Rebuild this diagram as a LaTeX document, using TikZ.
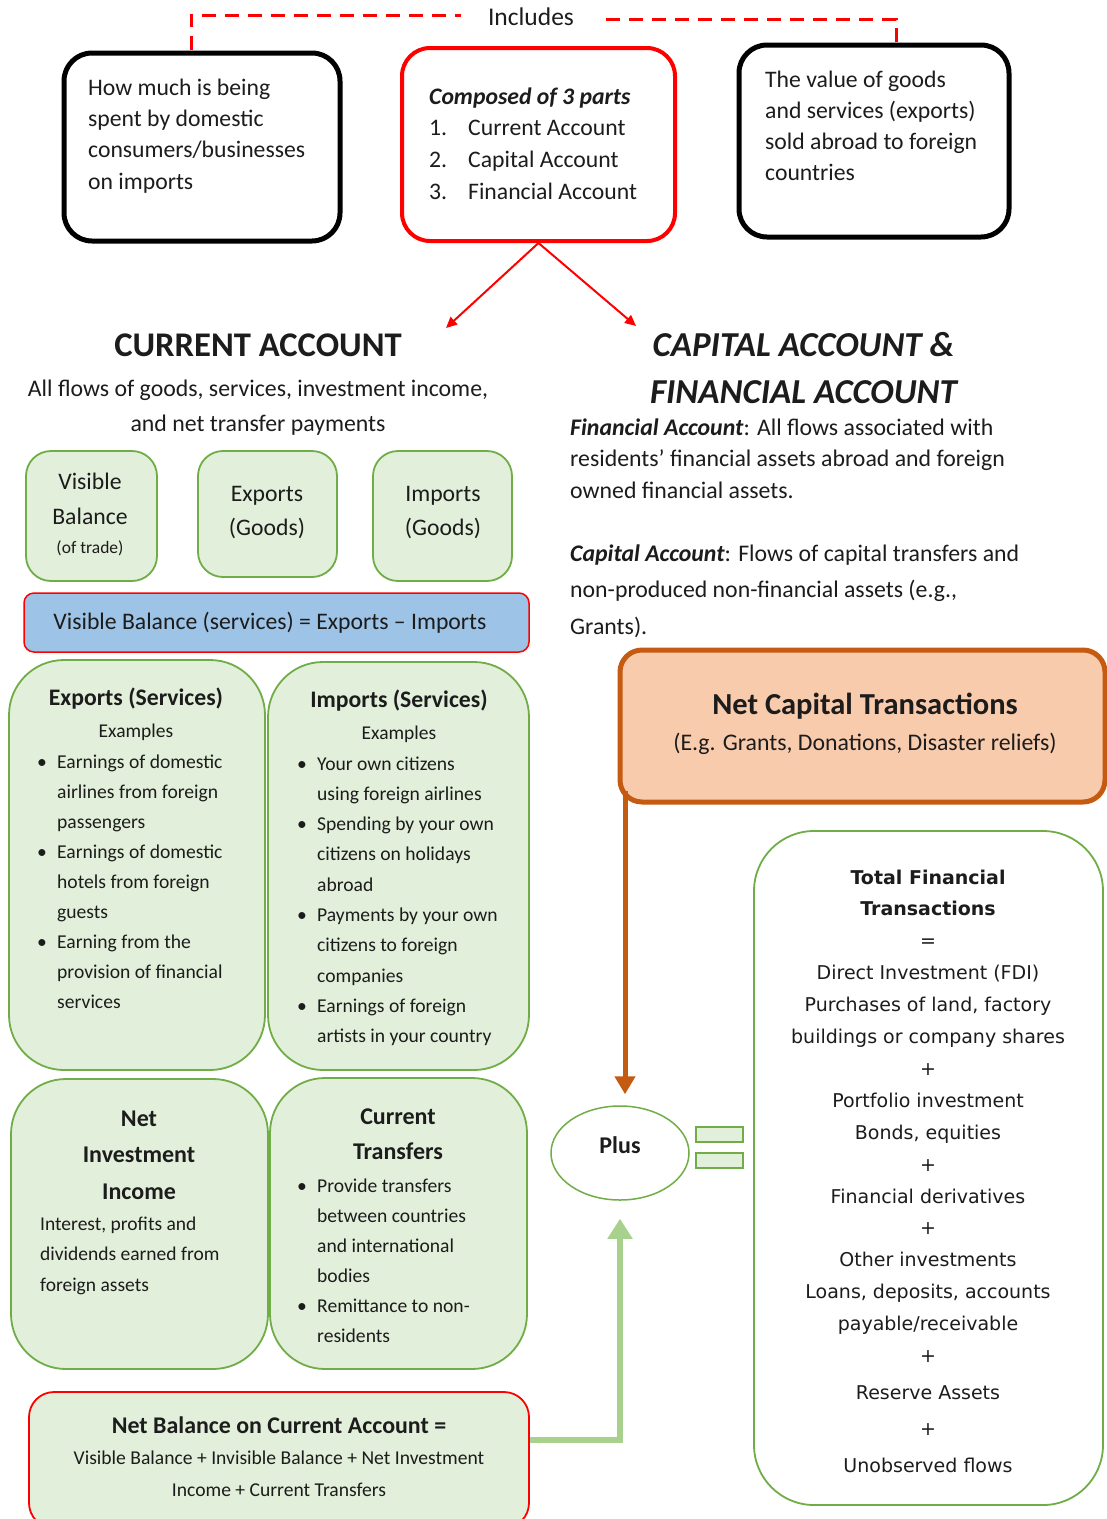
\documentclass[tikz,border=0pt]{standalone}
\usepackage{fontspec}
\setmainfont{Carlito}
\newfontfamily\verd{DejaVu Sans}
\usetikzlibrary{arrows.meta,shapes.geometric}
\definecolor{gborder}{HTML}{70AD47}
\definecolor{gfill}{HTML}{E2EFDA}
\definecolor{bfill}{HTML}{9DC3E6}
\definecolor{oborder}{HTML}{C55A11}
\definecolor{ofill}{HTML}{F8CBAD}
\definecolor{garrow}{HTML}{A9D18E}
\definecolor{ink}{HTML}{1C1C1C}
\newcommand\fsz[2]{\fontsize{#1pt}{#2pt}\selectfont}
\newcommand\Lines[2]{\begin{tabular}[t]{@{}#1@{}}#2\end{tabular}}
\newcommand\blt{\makebox[20pt][l]{\textbullet}}
\newcommand\nm[1]{\makebox[39pt][l]{#1}}
\begin{document}
\begin{tikzpicture}[x=1pt,y=-1pt,
  txt/.style={inner sep=0pt, anchor=base west, text=ink},
  ctxt/.style={inner sep=0pt, anchor=base, text=ink},
  bbox/.style={draw=black, line width=5pt, rounded corners=28, inner sep=0pt},
  rbox/.style={draw=red, line width=4pt, rounded corners=28, inner sep=0pt},
  gbox/.style={draw=gborder, fill=gfill, line width=1.8pt, inner sep=0pt},
  sgbox/.style={gbox, rounded corners=25},
  bgbox/.style={gbox, rounded corners=55},
  redarrow/.style={draw=red, line width=2pt, -{Triangle[length=11pt,width=10pt]}},
  dashline/.style={draw=red, line width=3pt, dash pattern=on 14pt off 9pt}
]
\useasboundingbox (0,0) rectangle (1107,1519);
\fill[white] (0,0) rectangle (1107,1519);

% top boxes
\node[bbox, minimum width=276, minimum height=188] (boxA) at (202,147) {};
\node[txt, font=\fsz{23.7}{31.4}] (tA) at (88,95) {\Lines{l}{How much is being\\spent by domestic\\consumers/businesses\\on imports}};

\node[rbox, minimum width=273, minimum height=193] (boxB) at (538.5,144.5) {};
\node[txt, font=\fsz{23.7}{31.7}] (tB) at (429,104) {\Lines{l}{\textbf{\textit{Composed of 3 parts}}\\\nm{1.}Current Account\\\nm{2.}Capital Account\\\nm{3.}Financial Account}};

\node[bbox, minimum width=270, minimum height=192] (boxC) at (874,141) {};
\node[txt, font=\fsz{23.7}{31.3}] (tC) at (765,87) {\Lines{l}{The value of goods\\and services (exports)\\sold abroad to foreign\\countries}};

\node[ctxt, font=\fsz{25.5}{28}] (incl) at (531,25) {Includes};
\coordinate (dA) at (191,50);
\coordinate (dC) at (896,44);
\draw[dashline] (dA) |- ([xshift=-27pt,yshift=1pt]incl.west);
\draw[dashline] ([xshift=32pt,yshift=-3pt]incl.east) -| (dC);

% headings
\coordinate (caL) at (446,328);
\coordinate (caR) at (636,326);
\draw[redarrow] (boxB.south) -- (caL);
\draw[redarrow] (boxB.south) -- (caR);

\node[ctxt, font=\bfseries\fsz{34.6}{40}] (curH) at (258,356) {CURRENT ACCOUNT};
\node[ctxt, font=\fsz{23.8}{35}] (curD) at (258,396) {\Lines{c}{All flows of goods, services, investment income,\\and net transfer payments}};
\node[ctxt, font=\bfseries\itshape\fsz{35}{47}] (capH) at (803.5,356) {\Lines{c}{CAPITAL ACCOUNT \&\\FINANCIAL ACCOUNT}};

\node[txt, font=\fsz{23.8}{31.5}] (faT) at (570,435) {\Lines{l}{\textbf{\textit{Financial Account}}: All flows associated with\\residents’ financial assets abroad and foreign\\owned financial assets.}};
\node[txt, font=\fsz{23.8}{36.5}] (caT) at (570,561) {\Lines{l}{\textbf{\textit{Capital Account}}: Flows of capital transfers and\\non-produced non-financial assets (e.g.,\\Grants).}};

% goods boxes
\node[sgbox, minimum width=131, minimum height=130] (vb) at (91.5,516) {};
\node[ctxt, font=\fsz{23.7}{35}] (vbT) at (90,489) {\Lines{c}{Visible\\Balance\\[-6pt]{\fsz{17.5}{20}(of trade)}}};
\node[sgbox, minimum width=139, minimum height=126] (exg) at (267.5,514) {};
\node[ctxt, font=\fsz{23.7}{34}] (exgT) at (267,501) {\Lines{c}{Exports\\(Goods)}};
\node[sgbox, minimum width=139, minimum height=130] (img) at (442.5,516) {};
\node[ctxt, font=\fsz{23.7}{34}] (imgT) at (443,501) {\Lines{c}{Imports\\(Goods)}};

\node[draw=red, fill=bfill, line width=1.5pt, rounded corners=10, minimum width=505, minimum height=59, inner sep=0pt] (vbs) at (276.5,622.5) {};
\node[ctxt, font=\fsz{23.7}{28}] (vbsT) at (270,629) {Visible Balance (services) = Exports – Imports};

% services boxes
\node[bgbox, minimum width=256, minimum height=410] (exs) at (137,865) {};
\node[ctxt, font=\bfseries\fsz{23.7}{28}] (exsH) at (136,705) {Exports (Services)};
\node[ctxt, font=\fsz{19.5}{22}] (exsE) at (136,737) {Examples};
\node[txt, font=\fsz{19.6}{30.1}] (exsL) at (37,768) {\Lines{l@{}l}{\blt&Earnings of domestic\\&airlines from foreign\\&passengers\\\blt&Earnings of domestic\\&hotels from foreign\\&guests\\\blt&Earning from the\\&provision of financial\\&services}};

\node[bgbox, minimum width=261, minimum height=408] (ims) at (398.5,866) {};
\node[ctxt, font=\bfseries\fsz{23.7}{28}] (imsH) at (399,707) {Imports (Services)};
\node[ctxt, font=\fsz{19.5}{22}] (imsE) at (399,739) {Examples};
\node[txt, font=\fsz{19.6}{30.3}] (imsL) at (297,770) {\Lines{l@{}l}{\blt&Your own citizens\\&using foreign airlines\\\blt&Spending by your own\\&citizens on holidays\\&abroad\\\blt&Payments by your own\\&citizens to foreign\\&companies\\\blt&Earnings of foreign\\&artists in your country}};

% income / transfers
\node[bgbox, minimum width=257, minimum height=290] (nii) at (139.5,1224) {};
\node[ctxt, font=\bfseries\fsz{24}{36.5}] (niiH) at (139,1126) {\Lines{c}{Net\\Investment\\Income}};
\node[txt, font=\fsz{19.5}{30.5}] (niiT) at (40,1230) {\Lines{l}{Interest, profits and\\dividends earned from\\foreign assets}};

\node[bgbox, minimum width=257, minimum height=291] (ctr) at (398.5,1223.5) {};
\node[ctxt, font=\bfseries\fsz{24}{35}] (ctrH) at (398,1124) {\Lines{c}{Current\\Transfers}};
\node[txt, font=\fsz{19.6}{30}] (ctrL) at (297,1192) {\Lines{l@{}l}{\blt&Provide transfers\\&between countries\\&and international\\&bodies\\\blt&Remittance to non-\\&residents}};

% net balance
\node[draw=red, fill=gfill, line width=1.8pt, rounded corners=25, minimum width=500, minimum height=136, inner sep=0pt] (nb) at (279,1460) {};
\node[ctxt, font=\bfseries\fsz{23.9}{28}] (nbH) at (279,1433) {Net Balance on Current Account =};
\node[ctxt, font=\fsz{19.6}{32}] (nbT) at (279,1464) {\Lines{c}{Visible Balance + Invisible Balance + Net Investment\\Income + Current Transfers}};

% capital
\node[draw=oborder, fill=ofill, line width=5pt, rounded corners=22, minimum width=485, minimum height=152, inner sep=0pt] (ncap) at (862.5,726) {};
\node[ctxt, font=\bfseries\fsz{30.5}{32}] (ncapH) at (865,714) {Net Capital Transactions};
\node[ctxt, font=\fsz{23.8}{28}] (ncapT) at (865,750) {(E.g. Grants, Donations, Disaster reliefs)};

% plus and equals
\node[ellipse, draw=gborder, fill=white, line width=1.5pt, minimum width=138, minimum height=94, inner sep=0pt] (plus) at (620,1153) {};
\node[ctxt, font=\bfseries\fsz{24}{28}] (plusT) at (620,1153) {Plus};
\node[draw=gborder, fill=gfill, line width=1.5pt, minimum width=47, minimum height=15, inner sep=0pt] (eq1) at (719.5,1134.5) {};
\node[draw=gborder, fill=gfill, line width=1.5pt, minimum width=47, minimum height=15, inner sep=0pt] (eq2) at (719.5,1160.5) {};

\draw[draw=oborder, line width=5pt, -{Triangle[length=18pt,width=20pt]}] ([xshift=5pt,yshift=14pt]plus.north |- ncap.south) -- ([xshift=5pt,yshift=11pt]plus.north);
\draw[draw=garrow, line width=6pt, -{Triangle[length=20pt,width=24pt]}] ([yshift=20pt]nb.east) -| ([yshift=-18pt]plus.south);

% total financial
\node[draw=gborder, fill=white, line width=1.8pt, rounded corners=60, minimum width=349, minimum height=674, inner sep=0pt] (tft) at (928.5,1168) {};
\node[ctxt, font=\verd\fsz{19}{31.9}] (tftA) at (928,884) {\Lines{c}{\textbf{Total Financial}\\\textbf{Transactions}\\=\\Direct Investment (FDI)\\Purchases of land, factory\\buildings or company shares\\+\\Portfolio investment\\Bonds, equities\\+\\Financial derivatives\\+\\Other investments\\Loans, deposits, accounts\\payable/receivable\\+}};
\node[ctxt, font=\verd\fsz{19}{36.5}] (tftB) at (928,1399) {\Lines{c}{Reserve Assets\\+\\Unobserved flows}};
\end{tikzpicture}
\end{document}
